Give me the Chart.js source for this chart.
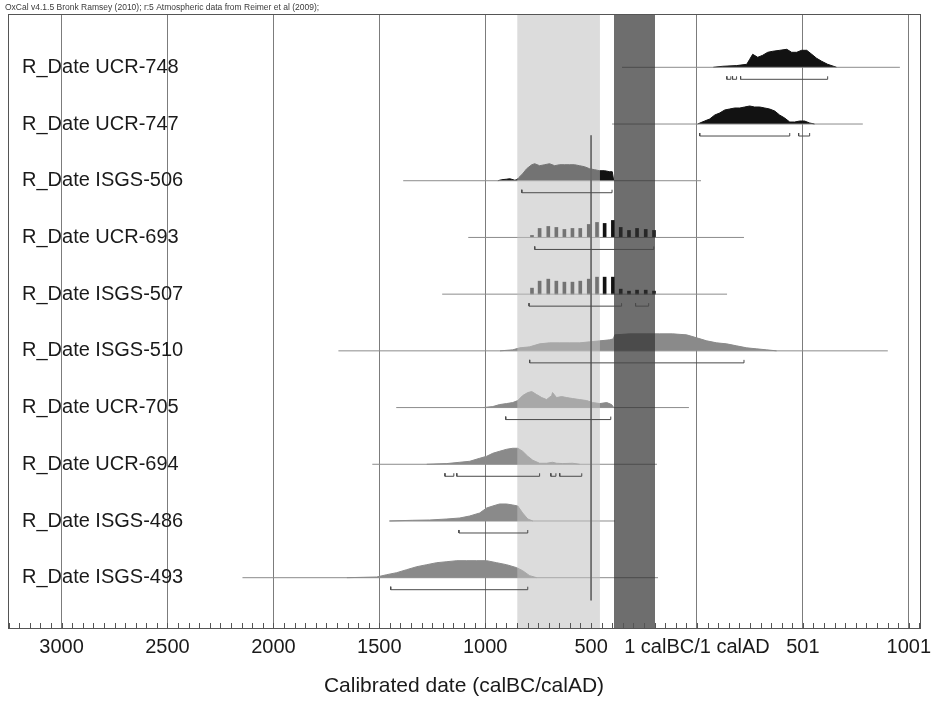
<!DOCTYPE html>
<html>
<head>
<meta charset="utf-8">
<script src="https://cdn.jsdelivr.net/npm/chart.js@4.4.1/dist/chart.umd.min.js"></script>
<style>
  html, body { margin: 0; padding: 0; background: #fff; }
</style>
</head>
<body>
<canvas id="oxcal" width="936" height="701"></canvas>
<script>
// OxCal multiplot, years as astronomical (BC negative), densities read in px off the plot
const headerText = 'OxCal v4.1.5 Bronk Ramsey (2010); r:5 Atmospheric data from Reimer et al (2009);'
const sampleNames = ['R_Date UCR-748', 'R_Date UCR-747', 'R_Date ISGS-506', 'R_Date UCR-693', 'R_Date ISGS-507',
    'R_Date ISGS-510', 'R_Date UCR-705', 'R_Date UCR-694', 'R_Date ISGS-486', 'R_Date ISGS-493']
const tickYears = [-3000, -2500, -2000, -1500, -1000, -500, 0, 500, 1000]
const tickLabels = ['3000', '2500', '2000', '1500', '1000', '500', '1 calBC/1 calAD', '501', '1001']

const priorStart = [-354, -401, -1387, -1080, -1203, -1693, -1420, -1533, -1453, -2146]
const priorEnd = [958, 783, 19, 222, 142, 901, -38, -189, -387, -184]

const ucr748Years = [77, 121, 187, 235, 249, 263, 287, 310, 334, 357, 391, 424, 447, 471, 494, 518, 542, 565, 589, 617, 659]
const ucr748Dens = [0, 1, 1.7, 3, 8, 13, 10, 12, 15, 16, 17, 18, 15, 15, 17, 17, 13, 9, 6, 3, 0]
const ucr747Years = [3, 36, 60, 84, 107, 131, 154, 178, 202, 225, 249, 272, 296, 320, 343, 367, 390, 414, 438, 461, 485, 508, 532, 555]
const ucr747Dens = [0, 3, 5, 9, 11, 14, 15, 16, 16, 17, 18, 17, 17, 16, 15, 13, 9, 6, 2, 2, 3, 3, 1, 0]
const isgs506Years = [-940, -922, -900, -884, -860, -851, -842, -823, -804, -780, -766, -743, -719, -696, -672, -649, -625, -601, -578, -554, -531, -507, -483, -459, -436, -412, -400, -393]
const isgs506Dens = [0, 1, 1.5, 2, 0.5, 1, 3, 7, 12, 16, 17, 15, 16, 17, 15, 16, 16, 16, 16, 15, 14, 12, 11, 10, 10, 9, 9, 0]
const stepYears = [-779, -743, -702, -664, -626, -588, -551, -511, -472, -436, -397, -360, -321, -283, -242, -203]
const ucr693Dens = [2, 9, 11, 10, 8, 9, 9, 13, 15, 14, 17, 10, 7, 9, 8, 7]
const isgs507Dens = [6, 13, 15, 13, 12, 12, 13, 15, 17, 17, 17, 5, 3, 4, 4, 3]
const isgs510Years = [-930, -870, -837, -790, -743, -696, -649, -601, -554, -507, -459, -412, -395, -388, -318, -237, -176, -115, -49, -1, 46, 93, 140, 187, 235, 282, 329, 376]
const isgs510Dens = [0, 1, 3, 4, 7, 8, 8, 8, 8, 9, 10, 11, 12, 16, 17, 17, 17, 17, 16, 13, 10, 8, 7, 5, 3, 2, 1, 0]
const ucr705Years = [-1010, -964, -932, -899, -870, -846, -823, -799, -780, -757, -733, -710, -686, -682, -663, -639, -615, -587, -554, -521, -493, -459, -426, -403, -393]
const ucr705Dens = [0, 1, 3, 4, 5, 7, 12, 15, 16, 13, 10, 8, 12, 15, 10, 11, 10, 9, 8, 7, 5, 4, 5, 3, 0]
const ucr694Years = [-1276, -1181, -1120, -1073, -1026, -993, -964, -932, -899, -870, -846, -823, -799, -775, -743, -710, -682, -663, -634, -587, -554]
const ucr694Dens = [0, 0.7, 2, 3, 6, 8, 11, 13, 15, 16, 16, 13, 8, 4, 1, 1, 2, 1, 0.7, 1, 0]
const isgs486Years = [-1451, -1342, -1262, -1181, -1120, -1073, -1026, -993, -964, -932, -899, -870, -846, -823, -799, -775]
const isgs486Dens = [0, 0.7, 1, 2, 3, 5, 8, 13, 15, 17, 17, 16, 15, 8, 2, 0]
const isgs493Years = [-1653, -1512, -1465, -1418, -1371, -1323, -1276, -1229, -1181, -1134, -1087, -1040, -993, -946, -899, -851, -823, -790, -757]
const isgs493Dens = [0, 0.7, 3, 5, 8, 11, 13, 15, 16, 17, 17, 17, 17, 15, 13, 10, 7, 2, 0]

// 95.4% ranges
const ranges95 = [
    [[141, 160], [168, 187], [206, 617]],
    [[13, 438], [480, 532]],
    [[-827, -401]],
    [[-766, -204]],
    [[-793, -356], [-290, -228]],
    [[-790, 222]],
    [[-903, -407]],
    [[-1190, -1148], [-1134, -743], [-690, -666], [-648, -544]],
    [[-1124, -799]],
    [[-1446, -799]]
]
const lightBand = [-849, -458]
const darkBand = [-392, -198]
const line500 = {year: -500, fromRow: 7.8, toRow: -0.4}

const distYears = [ucr748Years, ucr747Years, isgs506Years, stepYears, stepYears, isgs510Years, ucr705Years, ucr694Years, isgs486Years, isgs493Years]
const distDens = [ucr748Dens, ucr747Dens, isgs506Dens, ucr693Dens, isgs507Dens, isgs510Dens, ucr705Dens, ucr694Dens, isgs486Dens, isgs493Dens]
const asBars = [false, false, false, true, true, false, false, false, false, false]
const distColors = ['#121212', '#121212', '#121212', '#121212', '#121212', '#8a8a8a', '#8a8a8a', '#8a8a8a', '#8a8a8a', '#8a8a8a']

const yMin = -0.887
const yMax = 9.94
const pxPerRow = 56.7
const bracketDrop = 12 / pxPerRow
const bracketTick = 3 / pxPerRow

const datasets = []
sampleNames.forEach((name, i) => {
    const row = 9 - i
    const years = distYears[i]
    const dens = distDens[i]
    if (asBars[i]) {
        datasets.push({
            type: 'bar', order: 5, grouped: false, barThickness: 3,
            backgroundColor: distColors[i], borderWidth: 0,
            data: years.map((yr, j) => ({x: yr, y: [row, row + dens[j] / pxPerRow]}))
        })
    } else {
        datasets.push({
            order: 5, fill: {value: row}, backgroundColor: distColors[i],
            borderColor: distColors[i], borderWidth: 1, pointRadius: 0,
            data: years.map((yr, j) => ({x: yr, y: row + dens[j] / pxPerRow}))
        })
    }
    datasets.push({
        order: 4.5, borderColor: '#8c8c8c', borderWidth: 1, pointRadius: 0, fill: false,
        data: [{x: priorStart[i], y: row}, {x: priorEnd[i], y: row}]
    })
    const b = row - bracketDrop
    const pts = []
    ranges95[i].forEach(r => {
        pts.push({x: r[0], y: b + bracketTick}, {x: r[0], y: b}, {x: r[1], y: b}, {x: r[1], y: b + bracketTick}, {x: r[1], y: null})
    })
    datasets.push({order: 1, borderColor: '#4a4a4a', borderWidth: 1, pointRadius: 0, fill: false, spanGaps: false, data: pts})
})
datasets.push({
    order: 4, fill: 'start', backgroundColor: 'rgba(192,192,192,0.56)', borderWidth: 0, pointRadius: 0,
    data: [{x: lightBand[0], y: yMax}, {x: lightBand[1], y: yMax}]
})
datasets.push({
    order: 4, fill: 'start', backgroundColor: 'rgba(48,48,48,0.70)', borderWidth: 0, pointRadius: 0,
    data: [{x: darkBand[0], y: yMax}, {x: darkBand[1], y: yMax}]
})
datasets.push({
    order: 1, borderColor: '#6a6a6a', borderWidth: 1, pointRadius: 0, fill: false,
    data: [{x: line500.year, y: line500.fromRow}, {x: line500.year, y: line500.toRow}]
})

const oxcalDecor = {
    id: 'oxcalDecor',
    afterDatasetsDraw(chart) {
        const {ctx, chartArea: a, scales: {x}} = chart
        ctx.save()
        ctx.strokeStyle = '#555'
        ctx.lineWidth = 1
        ctx.beginPath()
        for (let v = -3250; v <= 1050; v += 50) {
            const px = Math.round(x.getPixelForValue(v)) + 0.5
            if (px < a.left || px > a.right) continue
            ctx.moveTo(px, a.bottom)
            ctx.lineTo(px, a.bottom - 5)
        }
        ctx.stroke()
        ctx.strokeRect(Math.round(a.left) + 0.5, Math.round(a.top) + 0.5, Math.round(a.right - a.left), Math.round(a.bottom - a.top))
        ctx.fillStyle = '#3a3a3a'
        ctx.font = '8.5px "Liberation Sans", Arial, sans-serif'
        ctx.textBaseline = 'alphabetic'
        ctx.fillText(headerText, 5, 10)
        ctx.restore()
    }
}

const font = '"Liberation Sans", Arial, sans-serif'
new Chart(document.getElementById('oxcal'), {
    type: 'line',
    data: {datasets},
    plugins: [oxcalDecor],
    options: {
        responsive: false,
        animation: false,
        layout: {padding: {top: 14, left: 8, right: 16, bottom: 0}},
        plugins: {legend: {display: false}, tooltip: {enabled: false}},
        elements: {line: {tension: 0}, point: {radius: 0}},
        scales: {
            x: {
                type: 'linear', min: -3253, max: 1053, offset: false,
                afterBuildTicks: s => { s.ticks = tickYears.map(v => ({value: v})) },
                afterFit: s => { s.height = 73; s.paddingLeft = 0; s.paddingRight = 0 },
                grid: {offset: false, drawTicks: false, lineWidth: 1,
                    color: c => (c.tick && c.tick.value === line500.year) ? 'rgba(0,0,0,0)' : '#7c7c7c'},
                border: {color: '#555'},
                ticks: {
                    padding: 7, autoSkip: false, maxRotation: 0, color: '#1a1a1a',
                    font: {family: font, size: 20},
                    callback: (v, i) => tickLabels[i]
                },
                title: {display: true, text: 'Calibrated date (calBC/calAD)', color: '#1a1a1a',
                    font: {family: font, size: 21}, padding: {top: 0, bottom: 2}}
            },
            y: {
                type: 'linear', min: yMin, max: yMax, position: 'left',
                afterBuildTicks: s => { s.ticks = sampleNames.map((n, i) => ({value: 9 - i})) },
                afterFit: s => { s.width = 0; s.paddingTop = 0; s.paddingBottom = 0 },
                grid: {display: false}, border: {display: false},
                ticks: {
                    mirror: true, padding: 14, autoSkip: false, color: '#1a1a1a',
                    font: {family: font, size: 20},
                    callback: v => sampleNames[9 - v]
                }
            }
        }
    }
})
</script>
</body>
</html>
